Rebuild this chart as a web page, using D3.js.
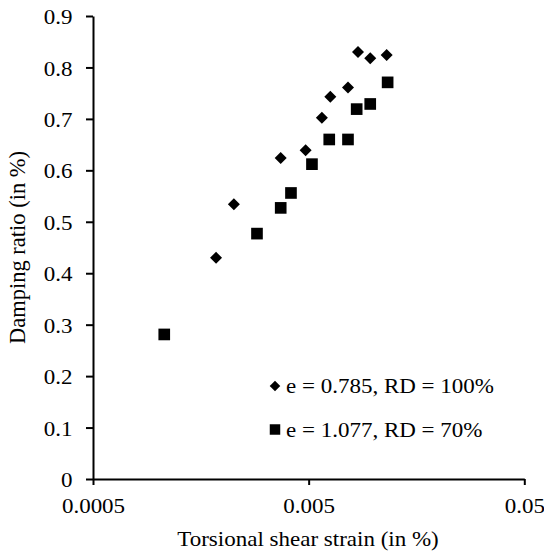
<!DOCTYPE html>
<html>
<head>
<meta charset="utf-8">
<script src="https://cdn.jsdelivr.net/npm/d3@7/dist/d3.min.js"></script>
<style>
  html, body { margin: 0; padding: 0; background: #fff; }
  svg { display: block; font-family: "Liberation Serif", "Times New Roman", serif; }
</style>
</head>
<body>
<svg id="chart" width="544" height="556"></svg>
<script>
// Torsional shear strain (%) and damping ratio (%) for two specimens
const strainDense = [0.00186, 0.00225, 0.00371, 0.00484, 0.00576, 0.0063, 0.00761, 0.00847, 0.00965, 0.0115];
const dampingDense = [0.430, 0.534, 0.624, 0.639, 0.702, 0.743, 0.761, 0.830, 0.818, 0.824];

const strainLoose = [0.00107, 0.00288, 0.00371, 0.00414, 0.00518, 0.00623, 0.00761, 0.00835, 0.00965, 0.01162];
const dampingLoose = [0.281, 0.477, 0.527, 0.556, 0.612, 0.660, 0.660, 0.719, 0.729, 0.771];

const seriesNames = ["e = 0.785, RD = 100%", "e = 1.077, RD = 70%"];
const xTicks = [0.0005, 0.005, 0.05];
const xTickLabels = ["0.0005", "0.005", "0.05"];
const yTicks = [0, 0.1, 0.2, 0.3, 0.4, 0.5, 0.6, 0.7, 0.8, 0.9];
const yTickLabels = ["0", "0.1", "0.2", "0.3", "0.4", "0.5", "0.6", "0.7", "0.8", "0.9"];
const xTitle = "Torsional shear strain (in %)";
const yTitle = "Damping ratio (in %)";

const svg = d3.select("#chart");
const FONT = 20;      // horizontal text size
const SX = 1.15;      // horizontal widening of the serif glyphs

const x = d3.scaleLog().domain([0.0005, 0.05]).range([93, 524.3]);
const y = d3.scaleLinear().domain([0, 0.9]).range([479, 16]);

// Axes
const xAxis = d3.axisBottom(x).tickValues(xTicks)
  .tickFormat((d, i) => xTickLabels[i]).tickSize(6).tickSizeOuter(0);
const yAxis = d3.axisLeft(y).tickValues(yTicks)
  .tickFormat((d, i) => yTickLabels[i]).tickSize(7).tickSizeOuter(0);

const gx = svg.append("g").attr("transform", `translate(0,${y(0)})`).call(xAxis);
const gy = svg.append("g").attr("transform", `translate(${x(0.0005)},0)`).call(yAxis);

[gx, gy].forEach(g => {
  g.select(".domain").attr("stroke", "#000").attr("stroke-width", 2);
  g.selectAll(".tick line").attr("stroke", "#000").attr("stroke-width", 2);
  g.selectAll(".tick text").attr("fill", "#000")
    .style("font-family", "Liberation Serif, Times New Roman, serif")
    .style("font-size", FONT + "px")
    .attr("transform", `scale(${SX},1)`);
});
gx.selectAll(".tick text").attr("y", 34).attr("dy", null);
gy.selectAll(".tick text").attr("x", -20.5 / SX).attr("dy", "0.38em");

// Axis titles
svg.append("text")
  .attr("transform", `translate(308,546) scale(${SX},1)`)
  .attr("text-anchor", "middle")
  .style("font-size", FONT + "px")
  .text(xTitle);

svg.append("text")
  .attr("transform", `translate(25,247.5) rotate(-90)`)
  .attr("text-anchor", "middle")
  .style("font-size", "22.5px")
  .text(yTitle);

// Markers
const diamond = d3.symbol().type(d3.symbolSquare).size(72);
const square = d3.symbol().type(d3.symbolSquare).size(136);

const denseData = strainDense.map((s, i) => [s, dampingDense[i]]);
const looseData = strainLoose.map((s, i) => [s, dampingLoose[i]]);

svg.append("g").selectAll("path").data(looseData).join("path")
  .attr("d", square)
  .attr("transform", d => `translate(${x(d[0])},${y(d[1])})`)
  .attr("fill", "#000");

svg.append("g").selectAll("path").data(denseData).join("path")
  .attr("d", diamond)
  .attr("transform", d => `translate(${x(d[0])},${y(d[1])}) rotate(45)`)
  .attr("fill", "#000");

// Legend
const legend = svg.append("g");
legend.append("path")
  .attr("d", d3.symbol().type(d3.symbolSquare).size(56))
  .attr("transform", "translate(275,386) rotate(45)")
  .attr("fill", "#000");
legend.append("text")
  .attr("transform", `translate(286,393) scale(${SX},1)`)
  .style("font-size", FONT + "px")
  .text(seriesNames[0]);
legend.append("path")
  .attr("d", d3.symbol().type(d3.symbolSquare).size(110))
  .attr("transform", "translate(275,429.5)")
  .attr("fill", "#000");
legend.append("text")
  .attr("transform", `translate(286,436.5) scale(${SX},1)`)
  .style("font-size", FONT + "px")
  .text(seriesNames[1]);
</script>
</body>
</html>
